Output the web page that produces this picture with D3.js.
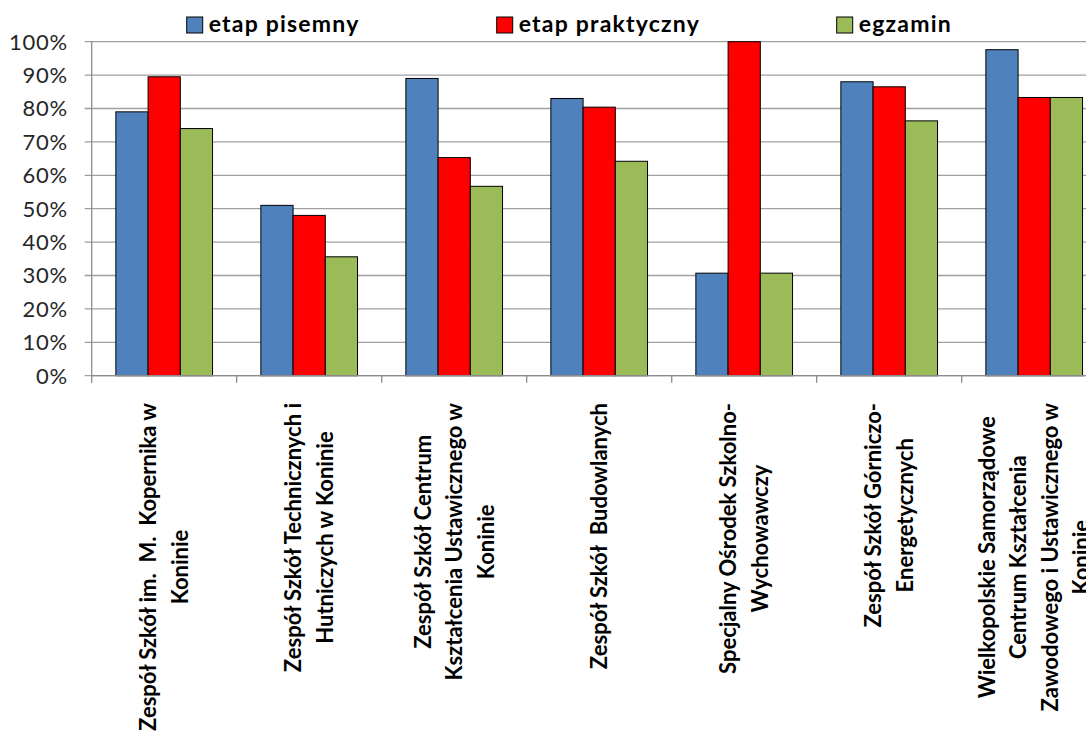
<!DOCTYPE html>
<html><head><meta charset="utf-8">
<script src="https://cdn.jsdelivr.net/npm/d3@7"></script>
<style>
html,body{margin:0;padding:0;background:#fff;}
svg{display:block;font-family:Lato,"Open Sans",sans-serif;}
text.cat{white-space:pre;}
</style></head>
<body>
<svg id="chart" width="1086" height="749"></svg>
<script>
const categories = [
  ["Zespół Szkół im.  M.  Kopernika w", "Koninie"],
  ["Zespół Szkół Technicznych i", "Hutniczych w Koninie"],
  ["Zespół Szkół Centrum", "Kształcenia Ustawicznego w", "Koninie"],
  ["Zespół Szkół  Budowlanych"],
  ["Specjalny Ośrodek Szkolno-", "Wychowawczy"],
  ["Zespół Szkół Górniczo-", "Energetycznych"],
  ["Wielkopolskie Samorządowe", "Centrum Kształcenia", "Zawodowego i Ustawicznego w", "Koninie"]
];
const seriesNames = ["etap pisemny", "etap praktyczny", "egzamin"];
const etapPisemny    = [0.79, 0.51, 0.89, 0.83, 0.307, 0.88, 0.976];
const etapPraktyczny = [0.895, 0.48, 0.653, 0.804, 1.00, 0.865, 0.833];
const egzamin        = [0.74, 0.356, 0.567, 0.642, 0.307, 0.763, 0.833];
const yTicks = [0,0.1,0.2,0.3,0.4,0.5,0.6,0.7,0.8,0.9,1.0];
const colors = ["#4F81BD", "#FF0000", "#9BBB59"];

(function(){
const svg = d3.select("#chart");
const left = 91.7, plotTop = 41.7, plotBottom = 375.7, step = 145;
const idx = d3.range(categories.length);

const x = d3.scaleBand().domain(idx).range([left, left + step*categories.length])
  .paddingInner(1/3).paddingOuter(1/6);
const xs = d3.scaleBand().domain(d3.range(3)).range([0, x.bandwidth()]);
const y = d3.scaleLinear().domain([0,1]).range([plotBottom, plotTop]);

// gridlines
svg.append("g").selectAll("line").data(yTicks).join("line")
  .attr("x1", left - 7).attr("x2", 1086)
  .attr("y1", d => y(d)).attr("y2", d => y(d))
  .attr("stroke", "#A0A0A0").attr("stroke-width", 1.3);

// y labels
svg.append("g").selectAll("text").data(yTicks).join("text")
  .attr("x", 68).attr("y", d => y(d)).attr("dy", "0.36em")
  .attr("text-anchor", "end").attr("font-size", 22).attr("fill", "#262626")
  .attr("letter-spacing", 0.8)
  .text(d => d3.format(".0%")(d));

// bars
const data = [etapPisemny, etapPraktyczny, egzamin];
const groups = svg.append("g").selectAll("g").data(idx).join("g")
  .attr("transform", i => `translate(${x(i)},0)`);
groups.selectAll("rect").data(i => data.map((s, k) => ({k, v: s[i]}))).join("rect")
  .attr("x", d => xs(d.k)).attr("width", xs.bandwidth())
  .attr("y", d => y(d.v)).attr("height", d => y(0) - y(d.v))
  .attr("fill", d => colors[d.k]).attr("stroke", "#000").attr("stroke-width", 1);

// axes lines
svg.append("line").attr("x1", left).attr("x2", left).attr("y1", plotTop).attr("y2", plotBottom)
  .attr("stroke", "#8C8C8C").attr("stroke-width", 1.3);
svg.append("line").attr("x1", left).attr("x2", 1086).attr("y1", plotBottom).attr("y2", plotBottom)
  .attr("stroke", "#8C8C8C").attr("stroke-width", 1.3);
svg.append("g").selectAll("line").data(d3.range(categories.length + 1)).join("line")
  .attr("x1", i => left + i*x.step()).attr("x2", i => left + i*x.step())
  .attr("y1", plotBottom).attr("y2", plotBottom + 7)
  .attr("stroke", "#8C8C8C").attr("stroke-width", 1.3);

// category labels (rotated)
const fs = 22, lineH = 31.5, labelTop = 403;
categories.forEach((lines, i) => {
  const cx = x(i) + x.bandwidth()/2;
  const g = svg.append("g");
  const texts = lines.map((t, j) => g.append("text").attr("class", "cat")
    .attr("font-size", fs).attr("font-weight", 700).attr("fill", "#000")
    .attr("text-anchor", "middle").text(t));
  const maxLen = d3.max(texts, t => t.node().getComputedTextLength());
  const cy = labelTop + maxLen/2;
  const n = lines.length;
  texts.forEach((t, j) => {
    const lx = cx + (j - (n-1)/2) * lineH + fs*0.36;
    t.attr("transform", `translate(${lx},${cy}) rotate(-90)`);
  });
});

// legend
const legendX = [186.7, 496.7, 836.7];
const lg = svg.append("g").selectAll("g").data(seriesNames).join("g")
  .attr("transform", (d, k) => `translate(${legendX[k]},17)`);
lg.append("rect").attr("width", 16).attr("height", 16)
  .attr("fill", (d, k) => colors[k]).attr("stroke", "#000").attr("stroke-width", 1);
lg.append("text").attr("x", 22).attr("y", 15).attr("font-size", 23)
  .attr("letter-spacing", 1.2)
  .attr("font-weight", 700).attr("fill", "#000").text(d => d);
})();
</script>
</body></html>
